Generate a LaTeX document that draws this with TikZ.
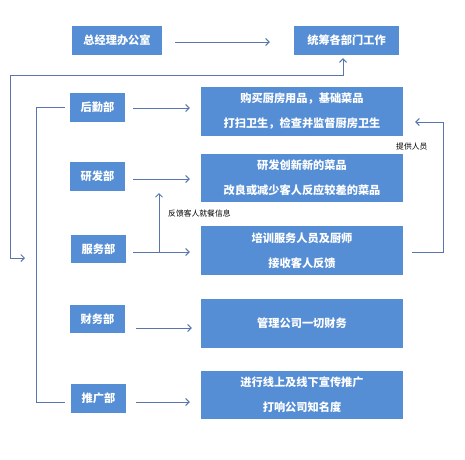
\documentclass[tikz,border=0pt]{standalone}
\usepackage{fontspec}
\newfontfamily\cjk{Noto Sans CJK SC}
\usetikzlibrary{arrows.meta,calc}
\definecolor{boxblue}{RGB}{85,142,213}
\definecolor{lineblue}{RGB}{88,118,172}
\begin{document}
\begin{tikzpicture}[x=1pt,y=-1pt,
  box/.style={fill=boxblue, text=white, inner sep=0pt, align=center,
    font=\cjk\bfseries\fontsize{11.2}{25}\selectfont},
  ln/.style={draw=lineblue, line width=1pt},
  arr/.style={ln, -{Straight Barb[length=3.5pt,width=7pt]}},
  lbl/.style={font=\cjk\fontsize{7.8}{9}\selectfont, text=black, inner sep=0pt, anchor=west}]
\useasboundingbox (0,0) rectangle (465,459);
% boxes
\node[box, minimum width=90pt, minimum height=29pt] (zj) at (117,40.5) {总经理办公室};
\node[box, minimum width=105pt, minimum height=29pt] (tc) at (346.5,40.5) {统筹各部门工作};
\node[box, minimum width=55pt, minimum height=29pt] (hq) at (97.5,107.5) {后勤部};
\node[box, minimum width=202pt, minimum height=49pt] (r1) at (302,111.5) {购买厨房用品，基础菜品\\打扫卫生，检查并监督厨房卫生};
\node[box, minimum width=55pt, minimum height=29pt] (yf) at (97.5,176.5) {研发部};
\node[box, minimum width=202pt, minimum height=48pt] (r2) at (302,178) {研发创新新的菜品\\改良或减少客人反应较差的菜品};
\node[box, minimum width=55pt, minimum height=28pt] (fw) at (98.5,249) {服务部};
\node[box, minimum width=202pt, minimum height=49pt] (r3) at (302,250.5) {培训服务人员及厨师\\接收客人反馈};
\node[box, minimum width=55pt, minimum height=28pt] (cw) at (97.5,319) {财务部};
\node[box, minimum width=202pt, minimum height=49pt] (r4) at (302,323.5) {管理公司一切财务};
\node[box, minimum width=55pt, minimum height=29pt] (tg) at (98.5,398.5) {推广部};
\node[box, minimum width=202pt, minimum height=48pt] (r5) at (302,395) {进行线上及线下宣传推广\\打响公司知名度};
% arrow start points
\coordinate (s0) at ($(zj.east)+(13,1.5)$);
\coordinate (s1) at ($(hq.east)+(8,0.5)$);
\coordinate (s2) at ($(yf.east)+(8,2.5)$);
\coordinate (s3) at ($(fw.east)+(7,3)$);
\coordinate (s4) at ($(cw.east)+(11,9)$);
\coordinate (s5) at ($(tg.east)+(10,3.5)$);
% horizontal arrows
\draw[arr] (s0) -- ($(s0 -| tc.west)+(-24,0)$);
\draw[arr] (s1) -- ($(s1 -| r1.west)+(-11,0)$);
\draw[arr] (s2) -- ($(s2 -| r2.west)+(-11,0)$);
\draw[arr] (s3) -- ($(s3 -| r3.west)+(-11,0)$);
\draw[arr] (s4) -- ($(s4 -| r4.west)+(-9,0)$);
\draw[arr] (s5) -- ($(s5 -| r5.west)+(-11,0)$);
% feedback up arrow
\coordinate (fb) at (159,252);
\coordinate (fbt) at (159,193);
\draw[arr] (fb) -- (fbt);
\node[lbl] (l1) at (168,213) {反馈客人就餐信息};
% big loop to top
\coordinate (lp) at (25,258);
\draw[ln, {Straight Barb[length=3.5pt,width=7pt]}-{Straight Barb[length=3.5pt,width=7pt]}]
  (lp) -- (10,258) -- (10,75) -- (343,75) -- ($(tc.south)+(-3.5,3)$);
% left bracket
\draw[ln] ($(hq.west)+(-5,0)$) -- (36,107.5) -- (36,402) -- ($(tg.west)+(-6,3.5)$);
% right feedback
\draw[arr] ($(r3.east)+(9,1.5)$) -- (443,252) -- (443,122) -- ($(r1.east)+(12,10.5)$);
\node[lbl] (l2) at (396,147) {提供人员};
\end{tikzpicture}
\end{document}
